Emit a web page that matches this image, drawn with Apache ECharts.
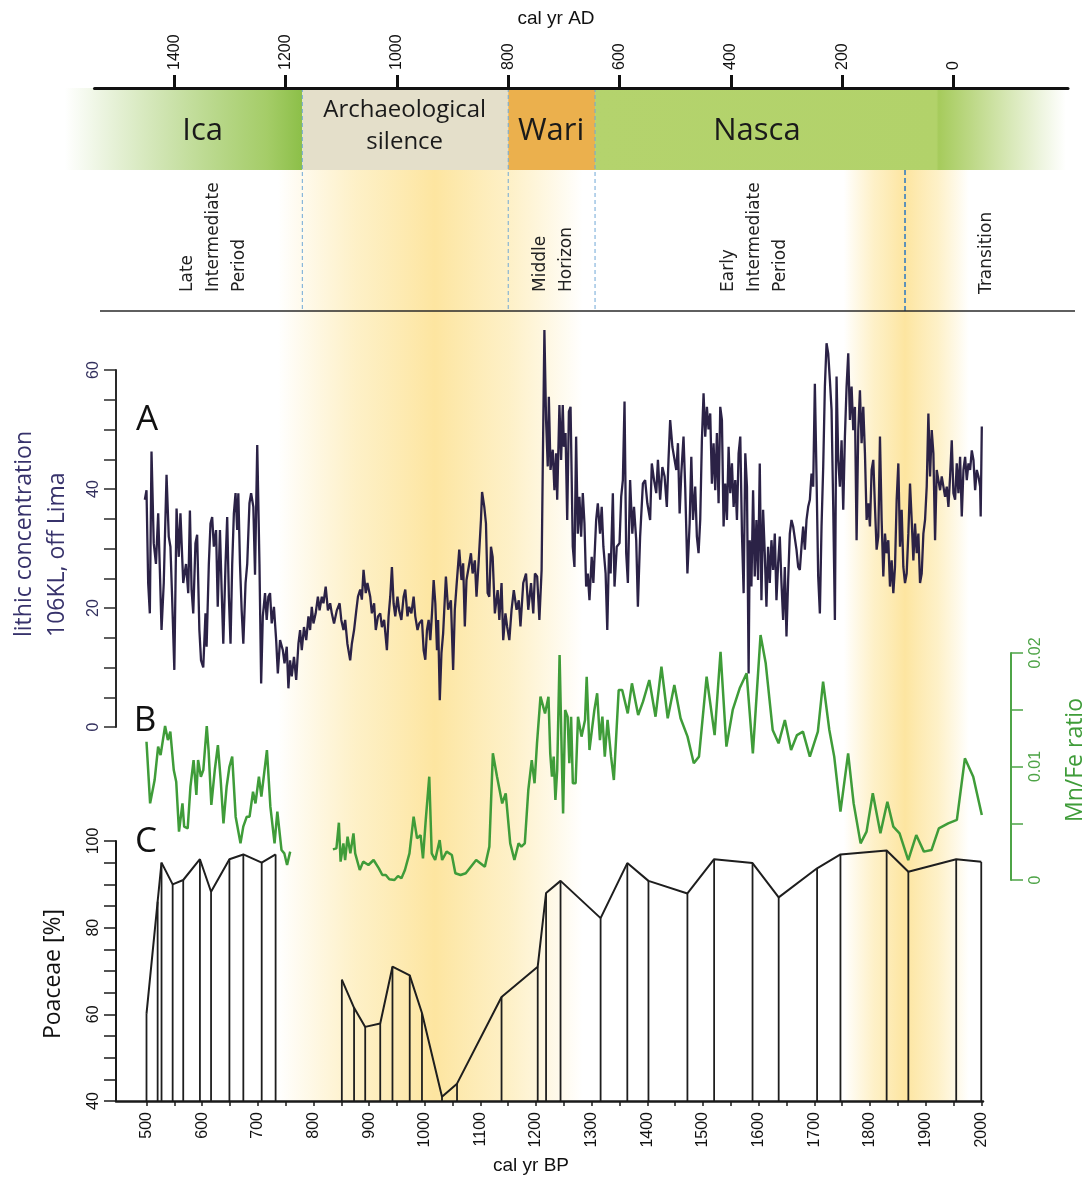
<!DOCTYPE html>
<html><head><meta charset="utf-8">
<script src="https://cdn.jsdelivr.net/npm/echarts@6/dist/echarts.min.js"></script>
<style>html,body{margin:0;padding:0;background:#fff}#c{width:1089px;height:1180px}</style>
</head><body><div id="c"></div>
<script>
// ---------------- DATA ----------------
// A: lithic concentration 106KL (cal yr BP, value)
const lithicA = [
[497,38.2],[500,39.8],[503,24.2],[506,19.1],[509,46.3],[513,30.9],[517,27.4],[521,35.9],[524,26.4],[527,16.3],[531,24.2],[536,42.4],[540,32.0],[543,30.3],[546,21.9],[550,9.6],[554,36.7],[558,28.6],[561,35.9],[566,24.2],[571,27.4],[575,22.5],[578,36.4],[581,23.1],[584,19.1],[588,30.9],[591,32.3],[595,16.3],[598,11.2],[602,10.0],[606,19.1],[608,13.5],[612,27.4],[615,34.2],[618,35.3],[621,30.3],[625,33.1],[628,20.2],[632,33.1],[635,23.1],[638,14.0],[642,27.4],[645,35.3],[648,21.9],[651,14.0],[654,27.4],[657,35.9],[660,39.3],[663,33.1],[665,39.3],[668,27.4],[671,19.6],[674,14.0],[678,24.2],[681,27.4],[685,37.6],[688,39.3],[692,37.0],[695,25.6],[699,47.4],[703,27.4],[706,7.3],[709,18.6],[713,22.5],[716,18.0],[719,21.9],[722,22.5],[725,17.4],[729,20.2],[733,14.6],[736,9.0],[740,14.6],[745,12.9],[748,10.7],[752,13.5],[755,6.5],[758,11.2],[761,8.5],[765,11.8],[769,7.9],[773,14.0],[776,16.3],[779,12.9],[783,16.8],[787,14.6],[791,18.6],[794,16.3],[797,20.2],[800,17.4],[804,19.1],[808,21.9],[811,19.6],[815,21.9],[818,20.8],[822,23.6],[826,19.6],[830,20.8],[833,19.1],[837,17.4],[842,19.6],[847,20.8],[850,18.0],[854,16.3],[857,18.0],[861,14.0],[866,11.2],[869,14.0],[873,16.3],[877,19.6],[880,21.9],[884,23.1],[887,21.4],[890,26.4],[894,22.5],[897,24.2],[902,21.9],[905,19.1],[909,20.8],[912,16.3],[916,18.6],[920,19.1],[923,16.8],[927,18.0],[932,12.9],[935,18.6],[938,21.9],[941,26.9],[944,20.8],[947,18.6],[951,21.9],[954,19.6],[958,18.0],[962,21.9],[965,23.1],[969,18.6],[972,20.2],[976,19.1],[980,21.9],[983,18.6],[987,16.3],[990,17.4],
[995,18.0],[998,12.9],[1001,11.3],[1004,16.3],[1007,18.0],[1010,14.6],[1013,19.1],[1016,24.7],[1019,20.8],[1022,12.9],[1024,18.0],[1027,4.5],[1030,12.4],[1033,15.7],[1038,25.3],[1042,19.7],[1047,21.3],[1051,9.6],[1054,19.7],[1057,23.6],[1062,29.8],[1066,24.7],[1069,27.5],[1072,16.9],[1075,24.7],[1079,26.9],[1083,29.2],[1086,25.8],[1090,28.0],[1093,21.9],[1097,28.0],[1101,34.8],[1103,39.5],[1107,37.0],[1110,34.2],[1113,22.5],[1116,21.9],[1119,30.3],[1122,28.6],[1126,19.1],[1131,23.0],[1134,18.0],[1138,24.2],[1141,14.6],[1145,19.1],[1148,16.9],[1152,14.6],[1156,19.7],[1160,23.0],[1165,19.7],[1169,21.3],[1172,16.9],[1177,24.2],[1182,25.8],[1186,19.7],[1191,24.2],[1195,19.1],[1198,25.8],[1202,25.3],[1206,18.0],[1210,26.4],[1212,43.2],[1215,66.7],[1218,51.6],[1221,43.8],[1223,55.5],[1226,43.2],[1230,46.6],[1233,39.8],[1236,46.0],[1238,38.2],[1242,54.1],[1245,44.9],[1248,54.1],[1250,47.1],[1253,49.4],[1256,34.8],[1259,53.0],[1262,53.8],[1266,30.3],[1269,26.9],[1272,48.8],[1275,32.5],[1278,38.7],[1281,32.0],[1284,39.3],[1287,34.2],[1290,23.6],[1293,25.8],[1296,21.3],[1300,28.6],[1303,24.2],[1308,34.8],[1311,37.6],[1315,32.5],[1318,37.0],[1321,30.3],[1325,25.8],[1328,16.3],[1331,29.2],[1334,25.8],[1338,39.3],[1341,23.6],[1345,30.3],[1350,30.9],[1353,38.7],[1356,41.5],[1359,54.7],[1362,29.2],[1365,24.2],[1369,41.5],[1373,32.5],[1376,37.0],[1380,31.4],[1383,20.2],[1387,32.0],[1392,40.9],[1396,41.5],[1400,37.6],[1405,34.8],[1408,44.3],[1412,41.5],[1416,39.3],[1419,44.9],[1423,38.2],[1427,43.7],[1431,42.1],[1435,37.0],[1438,44.9],[1441,51.6],[1445,47.1],[1448,45.4],[1452,43.2],[1455,47.7],[1458,35.9],[1461,42.6],[1465,48.8],[1468,40.4],[1472,25.8],[1476,34.2],[1479,45.4],[1482,34.8],[1486,40.4],[1489,32.0],[1492,29.2],[1495,34.8],[1498,48.2],
[1501,56.1],[1504,48.8],[1507,53.8],[1510,50.0],[1513,52.7],[1516,40.9],[1519,47.7],[1522,39.8],[1525,49.4],[1528,37.6],[1531,53.8],[1534,51.6],[1537,33.7],[1540,40.9],[1543,34.8],[1546,47.1],[1549,39.3],[1552,44.3],[1555,37.0],[1558,41.5],[1561,34.8],[1564,46.0],[1567,48.8],[1570,32.5],[1573,22.5],[1576,46.0],[1579,40.4],[1582,9.0],[1584,31.4],[1587,23.6],[1590,39.8],[1593,25.3],[1596,34.8],[1599,24.7],[1602,44.3],[1605,21.3],[1608,36.5],[1611,29.2],[1614,20.2],[1617,30.3],[1620,24.2],[1623,31.4],[1626,26.4],[1629,32.5],[1632,21.3],[1635,27.5],[1638,32.0],[1641,24.2],[1644,18.0],[1647,26.9],[1650,15.2],[1653,24.7],[1656,32.5],[1659,34.8],[1662,33.7],[1668,29.8],[1671,26.9],[1674,26.4],[1677,30.3],[1680,33.7],[1683,29.8],[1686,34.8],[1689,37.0],[1692,38.2],[1695,42.6],[1698,40.4],[1701,57.7],[1704,42.1],[1707,25.3],[1710,19.1],[1713,33.7],[1716,43.7],[1719,57.2],[1722,64.5],[1725,62.8],[1728,58.3],[1731,53.3],[1734,37.0],[1737,18.0],[1740,58.9],[1743,44.9],[1746,40.4],[1749,48.2],[1752,36.5],[1755,48.8],[1758,57.2],[1761,62.8],[1764,51.6],[1767,57.2],[1770,49.9],[1773,53.8],[1776,31.4],[1779,49.9],[1782,56.6],[1785,47.7],[1788,53.8],[1791,46.0],[1794,34.8],[1797,37.6],[1800,33.7],[1803,43.2],[1806,44.9],[1809,37.0],[1812,29.8],[1815,32.0],[1818,48.8],[1821,34.8],[1824,25.3],[1827,32.5],[1830,29.2],[1833,31.4],[1836,23.6],[1839,28.0],[1842,22.5],[1845,26.9],[1848,38.2],[1851,44.3],[1854,30.3],[1857,36.5],[1860,26.9],[1863,24.2],[1866,25.8],[1869,32.5],[1872,40.9],[1875,34.8],[1878,28.0],[1881,34.2],[1884,29.2],[1887,32.5],[1890,24.2],[1893,25.8],[1896,32.5],[1899,34.8],[1902,40.4],[1905,52.7],[1908,42.1],[1911,49.9],[1914,46.0],[1917,31.4],[1920,43.2],[1923,41.5],[1926,39.8],[1929,42.1],[1932,40.4],[1935,38.7],[1938,40.4],[1941,37.0],[1944,42.1],[1947,48.2],[1950,39.3],[1953,38.2],[1956,44.3],[1959,39.3],[1962,45.4],[1965,35.4],[1968,43.2],[1971,45.4],[1974,41.5],[1977,44.3],[1980,43.2],[1983,46.5],[1986,44.9],[1989,39.8],[1992,43.2],[1995,42.1],[1998,40.4],[1999,35.4],[2001,50.5]
];
// B: Mn/Fe ratio (cal yr BP, ratio); '-' marks the gap in the record
const mnFeB = [
[500,0.01218],[506.5,0.00675],[514.6,0.00881],[520.9,0.01175],[525.3,0.0110],[533.4,0.01357],[538.4,0.01233],[542.8,0.01307],[549,0.00969],[553.4,0.00866],[558.4,0.00426],[564.6,0.00675],[567.7,0.0047],[574,0.00455],[579,0.00822],[584.6,0.01057],[589.6,0.00749],[592.7,0.01057],[597.7,0.0091],[602.1,0.00969],[608.3,0.01357],[611.5,0.01145],[616.5,0.00661],[622.7,0.00969],[628.3,0.01189],[633.3,0.00881],[638.3,0.00499],[644,0.00822],[649,0.00998],[654,0.01087],[660.2,0.00558],[668.9,0.00323],[673.9,0.0047],[680.2,0.00558],[685.2,0.00558],[691.4,0.00778],[695.8,0.00675],[702,0.0091],[706.4,0.00734],[716.4,0.01145],[722.6,0.00646],[730.1,0.00323],[735.1,0.00602],[742.6,0.00264],[747.6,0.00235],[752.6,0.00132],[758.2,0.0025],
[797,'-'],
[835,0.0027],[841.3,0.00279],[845.7,0.00505],[848.8,0.00162],[853.8,0.00323],[856.9,0.00176],[861.3,0.00382],[866.3,0.00235],[871.9,0.00411],[875,0.00235],[883.2,0.00088],[889.4,0.00162],[898.8,0.00132],[908.1,0.00176],[917.5,0.00103],[923.8,0.00044],[930,0.00044],[936.3,0.00006],[945.6,0.0],[951.9,0.00035],[958.1,0.00015],[964.4,0.00088],[972.5,0.00235],[980,0.00558],[986.2,0.00367],[992.5,0.00396],[996.8,0.00191],[1001.8,0.00529],[1008.1,0.0091],[1012.5,0.00235],[1018.7,0.00176],[1026.8,0.00352],[1031.2,0.00176],[1039.3,0.0025],[1048.7,0.0022],[1055,0.00059],[1064.3,0.00044],[1073.7,0.00059],[1092.4,0.00176],[1108,0.00117],[1116.1,0.00294],[1122.4,0.01116],[1129.9,0.0091],[1139.2,0.00675],[1145.5,0.00764],[1153.6,0.00323],[1161.1,0.00176],[1168.6,0.00323],[1173.6,0.00294],[1179.8,0.00323],[1186.1,0.00793],[1192.3,0.01057],[1197.3,0.00852],[1201.7,0.01204],[1208,0.01615],
[1216.1,0.01468],[1222.3,0.01615],[1225.5,0.01116],[1228.6,0.0091],[1231.7,0.01087],[1234.8,0.00705],[1238,0.00969],[1242.3,0.01982],[1246.1,0.01116],[1248.6,0.00587],[1252.3,0.01498],[1256.7,0.01439],[1259.8,0.01028],[1263,0.01439],[1266.1,0.00852],[1271.1,0.00852],[1275.4,0.01439],[1281.7,0.01263],[1288,0.0141],[1291,0.01791],[1296,0.01145],[1300.4,0.01322],[1304.8,0.01498],[1309.8,0.01645],[1314.8,0.01233],[1319.2,0.01439],[1323.5,0.01087],[1328.5,0.0141],[1334.8,0.01087],[1339.8,0.00881],[1348.5,0.01674],[1354.8,0.01674],[1364.8,0.01468],[1372.3,0.01733],[1383.5,0.01454],[1392.2,0.01571],[1403.5,0.01762],[1414.7,0.01439],[1425.3,0.01879],[1436.6,0.01425],[1448.5,0.01718],[1459.7,0.01425],[1472.2,0.01263],[1483.4,0.01028],[1492.8,0.01087],[1506.5,0.01791],[1520.9,0.01277],[1531.5,0.02011],[1542.1,0.01175],[1553.4,0.01498],[1565.9,0.01689],[1578.4,0.01821],[1589.6,0.01116],[1603.4,0.02158],[1612.7,0.01909],[1625.2,0.01322],[1635.8,0.01204],[1647.1,0.0141],[1658.3,0.01145],[1668.9,0.01277],[1679.6,0.01307],[1692,0.01087],[1706.4,0.01307],[1715.8,0.01747],[1727,0.01322],[1735.8,0.01087],[1747,0.00602],[1760.8,0.01116],[1770.7,0.00675],[1783.2,0.00323],[1793.9,0.00426],[1805.1,0.00764],[1818.8,0.00411],[1831.3,0.0069],[1842,0.0047],[1853.2,0.00411],[1868.8,0.00176],[1883.2,0.00396],[1896.9,0.0025],[1910.6,0.00264],[1923.8,0.00455],[1940.6,0.00499],[1956.2,0.00529],[1970.6,0.01072],[1985.6,0.0091],[2001,0.00573]
];
// C: Poaceae [%] (cal yr BP, %); '-' marks the gap in the record
const poaceaeC = [
[500,60.1],[520,86],[527,95],[547,90],[566,91],[596,95.8],[616,88.3],[649,95.8],[674,96.9],[707,95],[732,96.9],
[790,'-'],
[851,68],[873,61.5],[893,57.1],[920,57.9],[942,71],[973,69],[995,60.3],[1031,41],[1058,44],[1138,64],[1203,71],[1218,88],[1244,90.8],[1316,82.2],[1364,94.9],[1402,90.8],[1472,87.9],[1520,95.8],[1589,94.9],[1636,87],[1705,93.7],[1747,96.9],[1830,97.8],[1869,92.9],[1955,95.8],[2000,95.2]
];
const bpTickValues = [500,550,600,650,700,750,800,850,900,950,1000,1050,1100,1150,1200,1250,1300,1350,1400,1450,1500,1550,1600,1650,1700,1750,1800,1850,1900,1950,2000];
const bpLabelValues = [500,600,700,800,900,1000,1100,1200,1300,1400,1500,1600,1700,1800,1900,2000];
const adTickLabels = [1400,1200,1000,800,600,400,200,0];
// cultures (cal yr BP spans)
const cultureNames = ['Ica','Archaeological\nsilence','Wari','Nasca'];
const cultureFrom  = [353, 780, 1150, 1306];
const cultureTo    = [780, 1150, 1306, 2152];
const cultureLabelBP = [601, 964, 1227, 1597];
const boundaryBP = [780, 1150, 1306];
const transitionBP = 1863;
const periodNames = ['Late\nIntermediate\nPeriod','Middle\nHorizon','Early\nIntermediate\nPeriod','Transition'];
const periodLabelBP = [620, 1231, 1592, 2010];
// dry-phase highlight bands: [start, peak, end] cal yr BP
const heatBands = [[736, 1018, 1284],[1753, 1863, 1978]];

// ---------------- LAYOUT ----------------
const W = 1089, H = 1180;
const PX500 = 146.5, PXYR = 0.5565;
const bpAt = px => 500 + (px - PX500) / PXYR;
const pxAt = bp => PX500 + (bp - 500) * PXYR;
const BAND_TOP = 88, BAND_BOT = 170, RULE_Y = 311, HEAT_BOT = 1101;
const LG = echarts.graphic.LinearGradient;
const cultureFill = [
  new LG(0,0,1,0,[{offset:0,color:'rgba(142,192,75,0)'},{offset:0.85,color:'rgba(160,202,96,0.95)'},{offset:1,color:'rgba(140,191,72,1)'}]),
  '#e4dfca',
  '#ebb04d',
  new LG(0,0,1,0,[{offset:0,color:'#b4d36d'},{offset:0.725,color:'#b2d26a'},{offset:0.73,color:'#a6cb5c'},{offset:1,color:'rgba(166,203,92,0)'}])
];
const tickFont = {fontFamily:'"Liberation Sans", Arial, sans-serif', fontSize:16};

const chart = echarts.init(document.getElementById('c'), null, {renderer:'canvas'});

function decoRect(x0,x1,y0,y1,api,fill){
  const a = api.coord([x0,y0]), b = api.coord([x1,y1]);
  return {type:'rect', shape:{x:a[0],y:a[1],width:b[0]-a[0],height:b[1]-a[1]}, style:{fill:fill}};
}

const graphics = [];
function txt(x,y,text,font,fill,opts){
  graphics.push(Object.assign({type:'text', x:x, y:y, silent:true, z:100,
    style:Object.assign({text:text, font:font, fill:fill, align:'center', verticalAlign:'middle', textAlign:'center', textVerticalAlign:'middle'}, opts && opts.style || {})},
    opts && opts.el || {}));
}
txt(556, 19, 'cal yr AD', '19px "Liberation Sans", Arial', '#111');
txt(531, 1166, 'cal yr BP', '19px "Liberation Sans", Arial', '#111');
const bigFont = '31px "Open Sans", sans-serif';
cultureNames.forEach((n,i)=>{
  const f = i===1 ? '24px "Open Sans", sans-serif' : bigFont;
  txt(pxAt(cultureLabelBP[i]), i===1?126:131, n, f, '#1a1a1a', {style:{lineHeight:32}});
});
periodNames.forEach((n,i)=>{
  txt(pxAt(periodLabelBP[i]), i===3?294:292, n, '17px "DejaVu Sans", Verdana, sans-serif', '#222',
    {el:{rotation:Math.PI/2}, style:{align:'left', textAlign:'left', lineHeight:26}});
});
txt(147, 420, 'A', '35px "Open Sans", sans-serif', '#111');
txt(145, 721, 'B', '35px "Open Sans", sans-serif', '#111');
txt(146, 842, 'C', '35px "Open Sans", sans-serif', '#111');
txt(41, 637, 'lithic concentration\n106KL, off Lima', '23px "Open Sans", sans-serif', '#37326b',
  {el:{rotation:Math.PI/2}, style:{align:'left', textAlign:'left', lineHeight:33}});
txt(53, 974, 'Poaceae [%]', '23px "Open Sans", sans-serif', '#111', {el:{rotation:Math.PI/2}});
txt(1075, 760, 'Mn/Fe ratio', '23px "Open Sans", sans-serif', '#3f9c39', {el:{rotation:Math.PI/2}});

const option = {
  animation:false,
  backgroundColor:'#fff',
  grid:[
    {left:0, right:0, top:0, bottom:0},
    {left:94.5, right:W-1068, top:87, height:1},
    {left:116, right:W-981, top:370, height:357},
    {left:116, right:W-1011, top:653, height:227},
    {left:116, right:W-983, top:841, height:260}
  ],
  xAxis:[
    {gridIndex:0, type:'value', min:bpAt(0), max:bpAt(W), show:false},
    {gridIndex:1, type:'value', position:'top', min:bpAt(94.5), max:bpAt(1068), z:10,
     axisLine:{show:true, lineStyle:{color:'#111', width:3}},
     axisTick:{show:true, customValues:adTickLabels.map(a=>1950-a), length:13, lineStyle:{color:'#111', width:3}},
     axisLabel:{show:true, customValues:adTickLabels.map(a=>1950-a), formatter:v=>String(Math.round(1950-v)), rotate:90, margin:17, color:'#111', ...tickFont},
     splitLine:{show:false}},
    {gridIndex:2, type:'value', min:bpAt(116), max:bpAt(981), show:false},
    {gridIndex:3, type:'value', min:bpAt(116), max:bpAt(1011), show:false},
    {gridIndex:4, type:'value', position:'bottom', min:bpAt(116), max:bpAt(983), z:10,
     axisLine:{show:true, lineStyle:{color:'#1a1a1a', width:2.5}},
     axisTick:{show:true, customValues:bpTickValues, length:5, lineStyle:{color:'#1a1a1a', width:1.5}},
     axisLabel:{show:true, customValues:bpLabelValues, formatter:v=>String(Math.round(v)), showMinLabel:true, showMaxLabel:true, hideOverlap:false, rotate:90, margin:11, color:'#111', ...tickFont},
     splitLine:{show:false}}
  ],
  yAxis:[
    {gridIndex:0, type:'value', min:0, max:H, inverse:true, show:false},
    {gridIndex:1, type:'value', show:false},
    {gridIndex:2, type:'value', min:0, max:60, interval:20, z:10,
     axisLine:{show:true, lineStyle:{color:'#2a2a2a', width:2}},
     axisTick:{show:true, length:12, lineStyle:{color:'#2a2a2a', width:1.5}},
     minorTick:{show:true, splitNumber:4, length:12, lineStyle:{color:'#2a2a2a', width:1.5}},
     axisLabel:{rotate:90, margin:14, color:'#33305e', ...tickFont},
     splitLine:{show:false}, minorSplitLine:{show:false}},
    {gridIndex:3, type:'value', position:'right', min:0, max:0.02, interval:0.01, z:10,
     axisLine:{show:true, lineStyle:{color:'#4ea447', width:2}},
     axisTick:{show:true, length:12, lineStyle:{color:'#4ea447', width:1.5}},
     minorTick:{show:true, splitNumber:2, length:12, lineStyle:{color:'#4ea447', width:1.5}},
     axisLabel:{rotate:90, margin:17, color:'#4ea447', formatter:v=>v===0?'0':String(+v.toFixed(2)), ...tickFont},
     splitLine:{show:false}, minorSplitLine:{show:false}},
    {gridIndex:4, type:'value', min:40, max:100, interval:20, z:10,
     axisLine:{show:true, lineStyle:{color:'#1a1a1a', width:2}},
     axisTick:{show:true, length:12, lineStyle:{color:'#1a1a1a', width:1.5}},
     minorTick:{show:true, splitNumber:4, length:12, lineStyle:{color:'#1a1a1a', width:1.5}},
     axisLabel:{rotate:90, margin:14, color:'#111', ...tickFont},
     splitLine:{show:false}, minorSplitLine:{show:false}}
  ],
  series:[
    {type:'custom', name:'heat', xAxisIndex:0, yAxisIndex:0, data:heatBands, z:-5, silent:true, clip:false,
     renderItem:(p,api)=>{
       const a=api.value(0), pk=api.value(1), b=api.value(2);
       const f=(pk-a)/(b-a);
       return decoRect(a,b,BAND_BOT,HEAT_BOT,api,new LG(0,0,1,0,[
         {offset:0,color:'rgba(253,232,168,0)'},{offset:f*0.5,color:'rgba(253,234,175,0.7)'},{offset:f,color:'rgba(253,229,160,1)'},
         {offset:f+(1-f)*0.5,color:'rgba(253,234,175,0.7)'},{offset:1,color:'rgba(253,232,168,0)'}]));
     }},
    {type:'custom', name:'cultures', xAxisIndex:0, yAxisIndex:0, data:cultureFrom.map((v,i)=>[v,cultureTo[i],i]), z:-4, silent:true, clip:false,
     renderItem:(p,api)=>decoRect(api.value(0),api.value(1),BAND_TOP,BAND_BOT,api,cultureFill[api.value(2)])},
    {type:'custom', name:'boundaries', xAxisIndex:0, yAxisIndex:0, data:boundaryBP.map(v=>[v]).concat([[transitionBP]]), z:-3, silent:true, clip:false,
     renderItem:(p,api)=>{
       const isT = p.dataIndex===boundaryBP.length;
       const a=api.coord([api.value(0), isT?BAND_BOT:BAND_TOP]), b=api.coord([api.value(0), RULE_Y]);
       return {type:'line', shape:{x1:a[0],y1:a[1],x2:b[0],y2:b[1]},
         style:{stroke:isT?'#2a76c0':'#6fa8d6', lineWidth:isT?1.5:1, lineDash:isT?[5,3]:[4,3]}};
     }},
    {type:'custom', name:'rule', xAxisIndex:0, yAxisIndex:0, data:[[bpAt(100), bpAt(1075)]], z:-3, silent:true, clip:false,
     renderItem:(p,api)=>{
       const a=api.coord([api.value(0),RULE_Y]), b=api.coord([api.value(1),RULE_Y]);
       return {type:'line', shape:{x1:a[0],y1:a[1],x2:b[0],y2:b[1]}, style:{stroke:'#2a2a2a', lineWidth:1.3}};
     }},
    {type:'line', name:'lithic', xAxisIndex:2, yAxisIndex:2, data:lithicA, symbol:'none', clip:false, z:3,
     lineStyle:{color:'#2b2246', width:2.3}},
    {type:'line', name:'MnFe', xAxisIndex:3, yAxisIndex:3, data:mnFeB, symbol:'none', clip:false, z:3,
     lineStyle:{color:'#3f9c39', width:2.5}},
    {type:'custom', name:'drops', xAxisIndex:4, yAxisIndex:4, data:poaceaeC.filter(d=>d[1]!=='-'), z:3, clip:false,
     renderItem:(p,api)=>{
       const a=api.coord([api.value(0),40]), b=api.coord([api.value(0),api.value(1)]);
       return {type:'line', shape:{x1:a[0],y1:a[1],x2:b[0],y2:b[1]}, style:{stroke:'#1e1e1e', lineWidth:1.8}};
     }},
    {type:'line', name:'Poaceae', xAxisIndex:4, yAxisIndex:4, data:poaceaeC, symbol:'none', clip:false, z:4,
     lineStyle:{color:'#1e1e1e', width:2}}
  ],
  graphic: graphics
};
chart.setOption(option);
</script></body></html>
